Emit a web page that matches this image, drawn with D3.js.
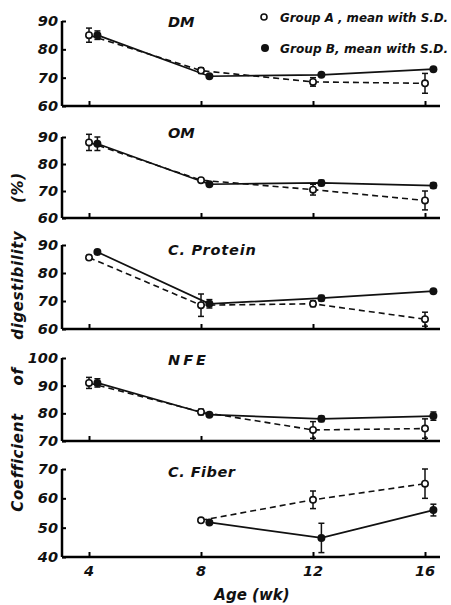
<!DOCTYPE html>
<html>
<head>
<meta charset="utf-8">
<script src="https://cdn.jsdelivr.net/npm/d3@7"></script>
<style>
  body { margin: 0; background: #fff; }
  text { font-family: "DejaVu Sans", sans-serif; font-weight: bold; font-style: italic; fill: #111; }
</style>
</head>
<body>
<div id="chart"></div>
<script>
/* DATA */
const agesA = [4, 8, 12, 16];
const agesB = [4.3, 8.3, 12.3, 16.3]; // group B plotted a little to the right
const xTicks = [4, 8, 12, 16];

const panelNames = ["DM", "OM", "C. Protein", "NFE", "C. Fiber"];

const dmA = [85, 72.5, 68.5, 68];
const dmAsd = [2.5, 1, 1.5, 3.5];
const dmB = [85, 70.5, 71, 73];
const dmBsd = [1.5, 0.5, 0.5, 0.5];

const omA = [88, 74, 70.5, 66.5];
const omAsd = [3, 0.5, 2, 3.5];
const omB = [87.5, 72.5, 73, 72];
const omBsd = [2.5, 0.5, 1, 1];

const cpA = [85.5, 68.5, 69, 63.5];
const cpAsd = [0, 4, 1, 2.5];
const cpB = [87.5, 69, 71, 73.5];
const cpBsd = [0, 1.5, 1, 0.5];

const nfeA = [91, 80.5, 74, 74.5];
const nfeAsd = [2, 1, 3, 3.5];
const nfeB = [91, 79.5, 78, 79];
const nfeBsd = [1.5, 0.5, 1, 1.5];

const cfA = [null, 52.5, 59.5, 65];
const cfAsd = [null, 0.5, 3, 5];
const cfB = [null, 51.8, 46.5, 56];
const cfBsd = [null, 0.5, 5, 2];

const yTicksDM = [60, 70, 80, 90];
const yTicksOM = [60, 70, 80, 90];
const yTicksCP = [60, 70, 80, 90];
const yTicksNFE = [70, 80, 90, 100];
const yTicksCF = [40, 50, 60, 70];

/* LAYOUT */
const width = 451, height = 605;
const axisLeft = 62, axisRight = 440;
// pixel top / bottom of each panel and title baseline
const panelTop = [21, 137, 245, 358, 469];
const panelBottom = [106, 218, 329, 441, 557];
const titleY = [27, 138, 255, 365, 477];
const titleSpacing = [0, 0, 0.8, 3, 0.5];

const panels = [
  { name: panelNames[0], a: dmA, asd: dmAsd, b: dmB, bsd: dmBsd, ticks: yTicksDM },
  { name: panelNames[1], a: omA, asd: omAsd, b: omB, bsd: omBsd, ticks: yTicksOM },
  { name: panelNames[2], a: cpA, asd: cpAsd, b: cpB, bsd: cpBsd, ticks: yTicksCP },
  { name: panelNames[3], a: nfeA, asd: nfeAsd, b: nfeB, bsd: nfeBsd, ticks: yTicksNFE },
  { name: panelNames[4], a: cfA, asd: cfAsd, b: cfB, bsd: cfBsd, ticks: yTicksCF }
];

const svg = d3.select("#chart").append("svg")
  .attr("width", width)
  .attr("height", height);

svg.append("rect").attr("width", width).attr("height", height).attr("fill", "#fff");

const xScale = d3.scaleLinear().domain([4, 16]).range([89, 425]);

panels.forEach((p, i) => {
  const yScale = d3.scaleLinear()
    .domain(d3.extent(p.ticks))
    .range([panelBottom[i], panelTop[i]]);

  const g = svg.append("g").attr("class", "panel");

  // left axis, ticks pointing inward
  const yAxis = d3.axisRight(yScale).tickValues(p.ticks).tickSize(4).tickFormat("");
  const yg = g.append("g")
    .attr("transform", `translate(${axisLeft},0)`)
    .call(yAxis);
  yg.select(".domain").attr("d", `M0,${panelTop[i]}V${panelBottom[i]}`).attr("stroke-width", 2.5);
  yg.selectAll(".tick line").attr("stroke-width", 2);

  g.selectAll(".ylab")
    .data(p.ticks)
    .join("text")
    .attr("class", "ylab")
    .attr("x", axisLeft - 4)
    .attr("y", d => yScale(d) + 5)
    .attr("text-anchor", "end")
    .attr("font-size", 14.5)
    .text(d => d);

  // bottom axis, ticks pointing up
  const xAxis = d3.axisTop(xScale).tickValues(xTicks).tickSize(5).tickFormat("");
  const xg = g.append("g")
    .attr("transform", `translate(0,${panelBottom[i]})`)
    .call(xAxis);
  xg.select(".domain").attr("d", `M${axisLeft},0H${axisRight}`).attr("stroke-width", 2.5);
  xg.selectAll(".tick line").attr("stroke-width", 2);

  g.append("text")
    .attr("x", 168)
    .attr("y", titleY[i])
    .attr("font-size", 14.5)
    .attr("letter-spacing", titleSpacing[i])
    .text(p.name);

  const ptsA = p.a.map((v, k) => ({ x: agesA[k], y: v, sd: p.asd[k] })).filter(d => d.y != null);
  const ptsB = p.b.map((v, k) => ({ x: agesB[k], y: v, sd: p.bsd[k] })).filter(d => d.y != null);

  const line = d3.line().x(d => xScale(d.x)).y(d => yScale(d.y));

  g.append("path")
    .datum(ptsA)
    .attr("d", line)
    .attr("fill", "none")
    .attr("stroke", "#111")
    .attr("stroke-width", 1.6)
    .attr("stroke-dasharray", "6,4");

  g.append("path")
    .datum(ptsB)
    .attr("d", line)
    .attr("fill", "none")
    .attr("stroke", "#111")
    .attr("stroke-width", 1.7);

  // error bars
  [ptsA, ptsB].forEach(pts => {
    const eb = g.selectAll(null)
      .data(pts.filter(d => d.sd > 0.6))
      .join("g")
      .attr("stroke", "#111")
      .attr("stroke-width", 1.5);
    eb.append("line")
      .attr("x1", d => xScale(d.x)).attr("x2", d => xScale(d.x))
      .attr("y1", d => yScale(d.y - d.sd)).attr("y2", d => yScale(d.y + d.sd));
    eb.append("line")
      .attr("x1", d => xScale(d.x) - 3).attr("x2", d => xScale(d.x) + 3)
      .attr("y1", d => yScale(d.y + d.sd)).attr("y2", d => yScale(d.y + d.sd));
    eb.append("line")
      .attr("x1", d => xScale(d.x) - 3).attr("x2", d => xScale(d.x) + 3)
      .attr("y1", d => yScale(d.y - d.sd)).attr("y2", d => yScale(d.y - d.sd));
  });

  g.selectAll(null)
    .data(ptsB)
    .join("circle")
    .attr("cx", d => xScale(d.x))
    .attr("cy", d => yScale(d.y))
    .attr("r", 4)
    .attr("fill", "#111");

  g.selectAll(null)
    .data(ptsA)
    .join("circle")
    .attr("cx", d => xScale(d.x))
    .attr("cy", d => yScale(d.y))
    .attr("r", 3.2)
    .attr("fill", "#fff")
    .attr("stroke", "#111")
    .attr("stroke-width", 1.6);
});

// x tick labels on the last panel
svg.selectAll(".xlab")
  .data(xTicks)
  .join("text")
  .attr("class", "xlab")
  .attr("x", d => xScale(d))
  .attr("y", 576)
  .attr("text-anchor", "middle")
  .attr("font-size", 14.5)
  .text(d => d);

svg.append("text")
  .attr("x", 252)
  .attr("y", 600)
  .attr("text-anchor", "middle")
  .attr("font-size", 15)
  .text("Age (wk)");

// y title
svg.append("text")
  .attr("transform", "translate(23,342) rotate(-90)")
  .attr("text-anchor", "middle")
  .attr("font-size", 15)
  .attr("letter-spacing", 0.6)
  .attr("word-spacing", 22)
  .text("Coefficient of digestibility (%)");

// legend
const legend = svg.append("g");
legend.append("circle").attr("cx", 264).attr("cy", 17).attr("r", 3).attr("fill", "#fff").attr("stroke", "#111").attr("stroke-width", 1.6);
legend.append("circle").attr("cx", 265).attr("cy", 48).attr("r", 4).attr("fill", "#111");
legend.append("text").attr("x", 280).attr("y", 22).attr("font-size", 12)
  .attr("textLength", 168).attr("lengthAdjust", "spacingAndGlyphs")
  .text("Group A , mean  with  S.D.");
legend.append("text").attr("x", 280).attr("y", 53).attr("font-size", 12)
  .attr("textLength", 168).attr("lengthAdjust", "spacingAndGlyphs")
  .text("Group B, mean  with  S.D.");
</script>
</body>
</html>
